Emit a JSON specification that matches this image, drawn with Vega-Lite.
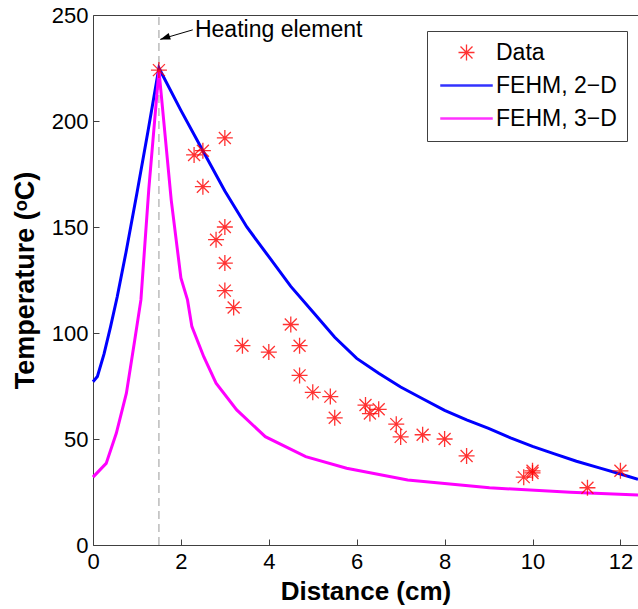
{
  "$schema": "https://vega.github.io/schema/vega-lite/v6.json",
  "width": 545,
  "height": 530,
  "autosize": {"type": "none"},
  "padding": {"left": 93, "top": 15, "right": 0, "bottom": 64},
  "background": "white",
  "config": {
    "view": {"stroke": "#404040", "strokeWidth": 1},
    "font": "Liberation Sans"
  },
  "datasets": {
    "obs": [
      {"series": "Data", "dist": 1.5, "temp": 224},
      {"series": "Data", "dist": 2.3, "temp": 184},
      {"series": "Data", "dist": 2.5, "temp": 186},
      {"series": "Data", "dist": 3.0, "temp": 192},
      {"series": "Data", "dist": 2.5, "temp": 169},
      {"series": "Data", "dist": 2.8, "temp": 144},
      {"series": "Data", "dist": 3.0, "temp": 150},
      {"series": "Data", "dist": 3.0, "temp": 133},
      {"series": "Data", "dist": 3.0, "temp": 120},
      {"series": "Data", "dist": 3.2, "temp": 112},
      {"series": "Data", "dist": 4.5, "temp": 104},
      {"series": "Data", "dist": 3.4, "temp": 94},
      {"series": "Data", "dist": 4.0, "temp": 91},
      {"series": "Data", "dist": 4.7, "temp": 94},
      {"series": "Data", "dist": 4.7, "temp": 80},
      {"series": "Data", "dist": 5.0, "temp": 72},
      {"series": "Data", "dist": 5.4, "temp": 70},
      {"series": "Data", "dist": 5.5, "temp": 60},
      {"series": "Data", "dist": 6.2, "temp": 66},
      {"series": "Data", "dist": 6.3, "temp": 62},
      {"series": "Data", "dist": 6.5, "temp": 64},
      {"series": "Data", "dist": 6.9, "temp": 57},
      {"series": "Data", "dist": 7.0, "temp": 51},
      {"series": "Data", "dist": 7.5, "temp": 52},
      {"series": "Data", "dist": 8.0, "temp": 50},
      {"series": "Data", "dist": 8.5, "temp": 42},
      {"series": "Data", "dist": 9.8, "temp": 32},
      {"series": "Data", "dist": 10.0, "temp": 35},
      {"series": "Data", "dist": 10.0, "temp": 34},
      {"series": "Data", "dist": 11.25, "temp": 27},
      {"series": "Data", "dist": 12.0, "temp": 35}
    ],
    "model": [
      {"series": "FEHM, 2\u2212D", "dist": 0, "temp": 77},
      {"series": "FEHM, 2\u2212D", "dist": 0.1, "temp": 79.5},
      {"series": "FEHM, 2\u2212D", "dist": 0.25, "temp": 90},
      {"series": "FEHM, 2\u2212D", "dist": 0.4, "temp": 103},
      {"series": "FEHM, 2\u2212D", "dist": 0.55, "temp": 117},
      {"series": "FEHM, 2\u2212D", "dist": 0.75, "temp": 138},
      {"series": "FEHM, 2\u2212D", "dist": 1.0, "temp": 166},
      {"series": "FEHM, 2\u2212D", "dist": 1.25, "temp": 195},
      {"series": "FEHM, 2\u2212D", "dist": 1.5, "temp": 225},
      {"series": "FEHM, 2\u2212D", "dist": 2.0, "temp": 205},
      {"series": "FEHM, 2\u2212D", "dist": 2.5, "temp": 186},
      {"series": "FEHM, 2\u2212D", "dist": 3.0, "temp": 167},
      {"series": "FEHM, 2\u2212D", "dist": 3.5, "temp": 150},
      {"series": "FEHM, 2\u2212D", "dist": 4.0, "temp": 136},
      {"series": "FEHM, 2\u2212D", "dist": 4.5, "temp": 122},
      {"series": "FEHM, 2\u2212D", "dist": 5.0, "temp": 110},
      {"series": "FEHM, 2\u2212D", "dist": 5.5, "temp": 98},
      {"series": "FEHM, 2\u2212D", "dist": 6.0, "temp": 88},
      {"series": "FEHM, 2\u2212D", "dist": 6.5, "temp": 81},
      {"series": "FEHM, 2\u2212D", "dist": 7.0, "temp": 74.5},
      {"series": "FEHM, 2\u2212D", "dist": 7.5, "temp": 69},
      {"series": "FEHM, 2\u2212D", "dist": 8.0, "temp": 63.5},
      {"series": "FEHM, 2\u2212D", "dist": 8.5, "temp": 59},
      {"series": "FEHM, 2\u2212D", "dist": 9.0, "temp": 55},
      {"series": "FEHM, 2\u2212D", "dist": 9.5, "temp": 50.5},
      {"series": "FEHM, 2\u2212D", "dist": 10.0, "temp": 46.5},
      {"series": "FEHM, 2\u2212D", "dist": 10.5, "temp": 43},
      {"series": "FEHM, 2\u2212D", "dist": 11.0, "temp": 39.5},
      {"series": "FEHM, 2\u2212D", "dist": 11.5, "temp": 36.5},
      {"series": "FEHM, 2\u2212D", "dist": 12.0, "temp": 33.5},
      {"series": "FEHM, 2\u2212D", "dist": 12.4, "temp": 31},
      {"series": "FEHM, 3\u2212D", "dist": 0, "temp": 32},
      {"series": "FEHM, 3\u2212D", "dist": 0.3, "temp": 38.5},
      {"series": "FEHM, 3\u2212D", "dist": 0.53, "temp": 52.7},
      {"series": "FEHM, 3\u2212D", "dist": 0.76, "temp": 71.6},
      {"series": "FEHM, 3\u2212D", "dist": 0.95, "temp": 96.7},
      {"series": "FEHM, 3\u2212D", "dist": 1.09, "temp": 115.6},
      {"series": "FEHM, 3\u2212D", "dist": 1.27, "temp": 168},
      {"series": "FEHM, 3\u2212D", "dist": 1.5, "temp": 224},
      {"series": "FEHM, 3\u2212D", "dist": 1.78, "temp": 162.7},
      {"series": "FEHM, 3\u2212D", "dist": 2.0, "temp": 126},
      {"series": "FEHM, 3\u2212D", "dist": 2.15, "temp": 115.6},
      {"series": "FEHM, 3\u2212D", "dist": 2.25, "temp": 103},
      {"series": "FEHM, 3\u2212D", "dist": 2.52, "temp": 88.8},
      {"series": "FEHM, 3\u2212D", "dist": 2.8, "temp": 76.3},
      {"series": "FEHM, 3\u2212D", "dist": 3.27, "temp": 63.7},
      {"series": "FEHM, 3\u2212D", "dist": 3.92, "temp": 51.1},
      {"series": "FEHM, 3\u2212D", "dist": 4.84, "temp": 41.7},
      {"series": "FEHM, 3\u2212D", "dist": 5.77, "temp": 36.2},
      {"series": "FEHM, 3\u2212D", "dist": 7.16, "temp": 30.7},
      {"series": "FEHM, 3\u2212D", "dist": 9.02, "temp": 27},
      {"series": "FEHM, 3\u2212D", "dist": 10.86, "temp": 24.9},
      {"series": "FEHM, 3\u2212D", "dist": 12.43, "temp": 23.6}
    ],
    "marker": [{"x": 1.5, "y0": 0, "y1": 250}],
    "note": [{"label": "Heating element", "tx": 2.32, "ty": 243, "x0": 2.27, "y0": 243, "x1": 1.53, "y1": 238.5}]
  },
  "layer": [
    {
      "data": {"name": "marker"},
      "mark": {"type": "rule", "color": "#aaaaaa", "strokeWidth": 1.2, "strokeDash": [8, 5]},
      "encoding": {
        "x": {"field": "x", "type": "quantitative",
          "scale": {"domain": [0, 12.4], "nice": false, "zero": false},
          "axis": {"orient": "bottom", "values": [0, 2, 4, 6, 8, 10, 12], "format": "d", "grid": false, "domain": false,
            "tickSize": -6, "tickColor": "#404040", "labelFontSize": 22, "labelColor": "black", "labelPadding": 12, "labelFlush": false, "labelOverlap": false,
            "title": "Distance (cm)", "titleFontSize": 26, "titleFontWeight": "bold", "titleColor": "black", "titleBaseline": "middle", "titleY": 46}},
        "y": {"field": "y0", "type": "quantitative",
          "scale": {"domain": [0, 250], "nice": false},
          "axis": {"orient": "left", "values": [0, 50, 100, 150, 200, 250], "format": "d", "grid": false, "domain": false,
            "tickSize": -6, "tickColor": "#404040", "labelFontSize": 22, "labelColor": "black", "labelPadding": 11, "labelOverlap": false,
            "title": "Temperature (\u1d52C)", "titleFontSize": 27, "titleFontWeight": "bold", "titleColor": "black", "titleBaseline": "middle", "titleAlign": "center", "titleAngle": -90, "titleX": -68, "titleY": 265}},
        "y2": {"field": "y1"}
      }
    },
    {
      "data": {"name": "model"},
      "mark": {"type": "line", "strokeWidth": 3},
      "encoding": {
        "x": {"field": "dist", "type": "quantitative"},
        "y": {"field": "temp", "type": "quantitative"},
        "color": {"field": "series", "type": "nominal",
          "scale": {"domain": ["Data", "FEHM, 2\u2212D", "FEHM, 3\u2212D"], "range": ["#ff0000", "#0000ff", "#ff00ff"]},
          "legend": {"orient": "none", "legendX": 334, "legendY": 16, "title": null, "padding": 10,
            "strokeColor": "#404040", "fillColor": "white", "labelFontSize": 23, "labelColor": "black", "labelLimit": 300,
            "symbolSize": 256, "symbolStrokeWidth": 1.3, "symbolOpacity": 0.9, "symbolOffset": 18, "labelOffset": 18, "rowPadding": 9}},
        "order": {"field": "dist", "type": "quantitative"}
      }
    },
    {
      "data": {"name": "obs"},
      "mark": {"type": "point", "filled": false, "size": 256, "strokeWidth": 1.3, "opacity": 0.8},
      "encoding": {
        "x": {"field": "dist", "type": "quantitative"},
        "y": {"field": "temp", "type": "quantitative"},
        "color": {"field": "series", "type": "nominal"},
        "shape": {"field": "series", "type": "nominal",
          "scale": {"domain": ["Data", "FEHM, 2\u2212D", "FEHM, 3\u2212D"],
            "range": ["M-1,0L1,0M0,-1L0,1M-0.75,-0.75L0.75,0.75M-0.75,0.75L0.75,-0.75", "M-3.2,-0.08L3.2,-0.08L3.2,0.08L-3.2,0.08Z", "M-3.2,-0.08L3.2,-0.08L3.2,0.08L-3.2,0.08Z"]},
          "legend": {"orient": "none", "legendX": 334, "legendY": 16, "title": null, "padding": 10,
            "strokeColor": "#404040", "fillColor": "white", "labelFontSize": 23, "labelColor": "black", "labelLimit": 300,
            "symbolSize": 256, "symbolStrokeWidth": 1.3, "symbolOpacity": 0.9, "symbolOffset": 18, "labelOffset": 18, "rowPadding": 9}}
      }
    },
    {
      "data": {"name": "note"},
      "mark": {"type": "rule", "color": "black", "strokeWidth": 1},
      "encoding": {
        "x": {"field": "x0", "type": "quantitative"},
        "y": {"field": "y0", "type": "quantitative"},
        "x2": {"field": "x1"},
        "y2": {"field": "y1"}
      }
    },
    {
      "data": {"name": "note"},
      "mark": {"type": "point", "shape": "M0,0L2,-0.7L2,0.7Z", "filled": true, "color": "black", "size": 100, "opacity": 1, "angle": 342},
      "encoding": {
        "x": {"field": "x1", "type": "quantitative"},
        "y": {"field": "y1", "type": "quantitative"}
      }
    },
    {
      "data": {"name": "note"},
      "mark": {"type": "text", "align": "left", "baseline": "middle", "fontSize": 23, "color": "black"},
      "encoding": {
        "x": {"field": "tx", "type": "quantitative"},
        "y": {"field": "ty", "type": "quantitative"},
        "text": {"field": "label"}
      }
    }
  ]
}
